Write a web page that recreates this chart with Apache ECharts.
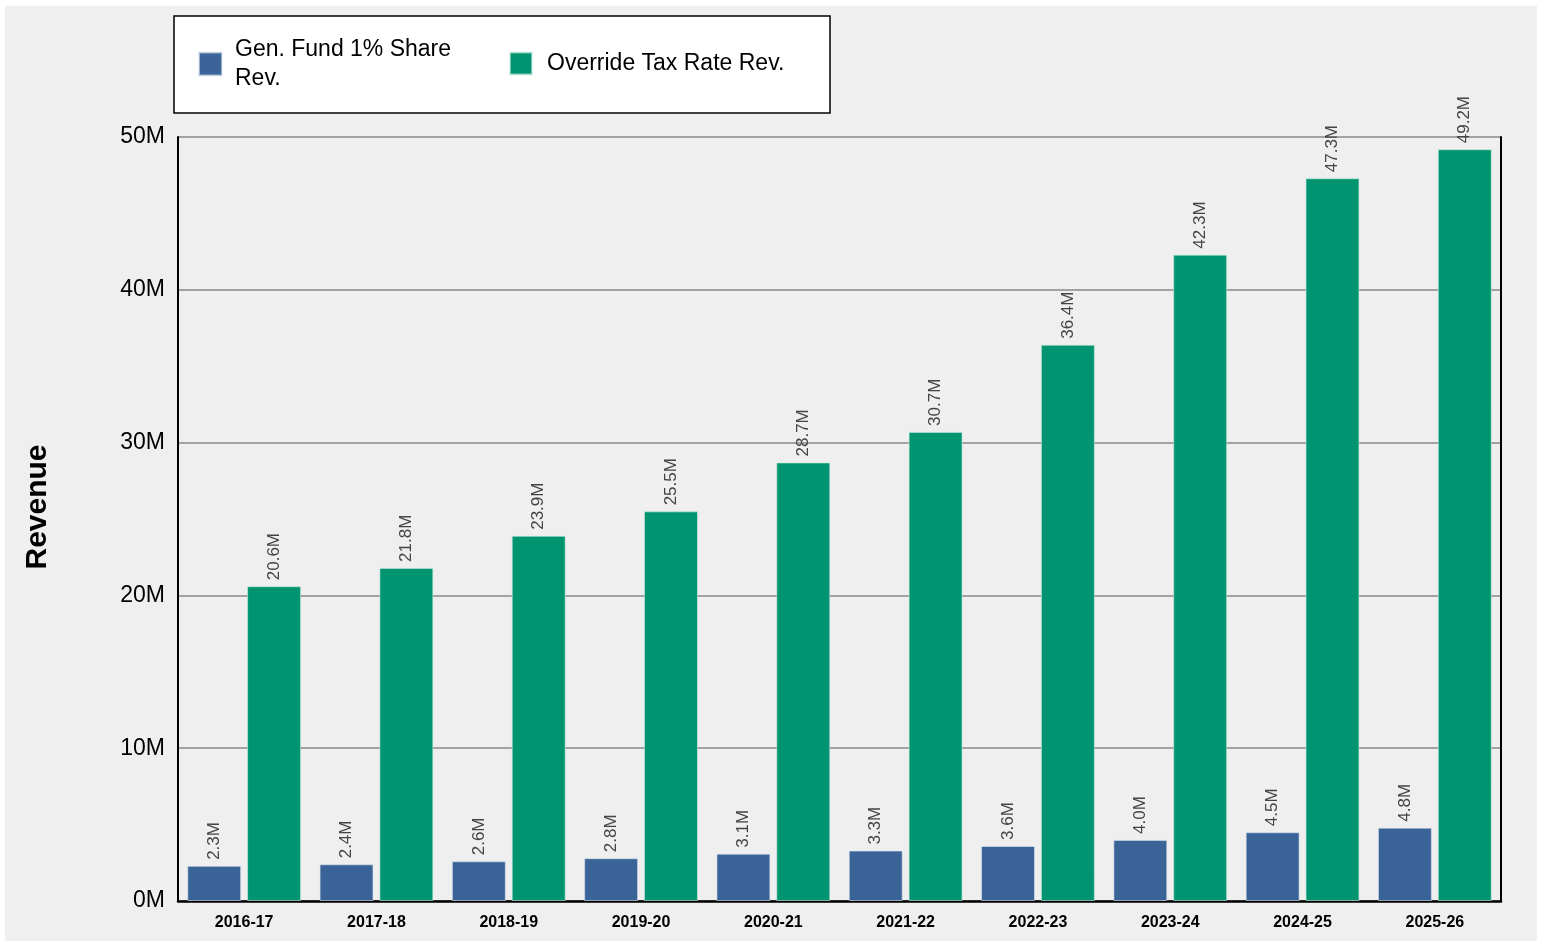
<!DOCTYPE html>
<html><head><meta charset="utf-8">
<script src="https://cdn.jsdelivr.net/npm/echarts@6/dist/echarts.min.js"></script>
<style>html,body{margin:0;padding:0;background:#fff;}#c{width:1545px;height:941px;}</style>
</head><body><div id="c"></div>
<script>
const categories = ['2016-17','2017-18','2018-19','2019-20','2020-21','2021-22','2022-23','2023-24','2024-25','2025-26'];
const genFund = [2.3, 2.4, 2.6, 2.8, 3.1, 3.3, 3.6, 4.0, 4.5, 4.8];
const overrideTax = [20.6, 21.8, 23.9, 25.5, 28.7, 30.7, 36.4, 42.3, 47.3, 49.2];
const yTicks = [0, 10, 20, 30, 40, 50];

const FONT = '"Liberation Sans", Arial, sans-serif';
const chart = echarts.init(document.getElementById('c'), null, {renderer: 'canvas'});
const labelCfg = {
  show: true, position: 'top', rotate: 90, align: 'left', verticalAlign: 'middle',
  distance: 6, color: '#444', fontSize: 17, fontFamily: FONT,
  formatter: p => p.value.toFixed(1) + 'M'
};
chart.setOption({
  animation: false,
  textStyle: {fontFamily: FONT},
  graphic: [
    {type: 'rect', z: -10, silent: true, shape: {x: 5, y: 6, width: 1532, height: 935}, style: {fill: '#efefef'}},
    {type: 'rect', z: 1, silent: true, shape: {x: 174, y: 16, width: 656, height: 97}, style: {fill: '#ffffff', stroke: '#000', lineWidth: 1.5}},
    {type: 'text', z: 5, x: 38, y: 507, rotation: Math.PI / 2,
      style: {text: 'Revenue', fontSize: 30, fontWeight: 'bold', fill: '#000', fontFamily: FONT, align: 'center', verticalAlign: 'middle'}}
  ],
  legend: [
    {data: ['Gen. Fund 1% Share\nRev.'], left: 198, top: 35, padding: 0, icon: 'rect', itemWidth: 23, itemHeight: 23,
      textStyle: {fontSize: 23, lineHeight: 29, color: '#000', fontFamily: FONT, padding: [0, 0, 0, 8]}},
    {data: ['Override Tax Rate Rev.'], left: 509, top: 49, padding: 0, icon: 'rect', itemWidth: 22, itemHeight: 22,
      textStyle: {fontSize: 23, lineHeight: 29, color: '#000', fontFamily: FONT, padding: [0, 0, 0, 10]}}
  ],
  grid: {left: 178, right: 44, top: 137, bottom: 40, containLabel: false},
  xAxis: {
    type: 'category', data: categories,
    axisLine: {show: true, lineStyle: {color: '#000', width: 2.5}},
    axisTick: {show: false},
    axisLabel: {color: '#000', fontSize: 16, fontWeight: 'bold', margin: 14, fontFamily: FONT}
  },
  yAxis: [{
    type: 'value', min: yTicks[0], max: yTicks[yTicks.length - 1], interval: 10,
    axisLine: {show: true, lineStyle: {color: '#000', width: 2}},
    axisTick: {show: false},
    axisLabel: {color: '#000', fontSize: 23, margin: 13, formatter: '{value}M', fontFamily: FONT},
    splitLine: {show: true, lineStyle: {color: '#888', width: 1.5}}
  }, {
    type: 'value', min: 0, max: 50, interval: 10, position: 'right',
    axisLine: {show: true, lineStyle: {color: '#000', width: 2}},
    axisTick: {show: false}, axisLabel: {show: false}, splitLine: {show: false}
  }],
  series: [
    {name: 'Gen. Fund 1% Share\nRev.', type: 'bar', data: genFund, barGap: '11%', barCategoryGap: '14%',
      itemStyle: {color: '#3a6497', borderColor: 'rgba(220,230,240,0.6)', borderWidth: 1}, label: labelCfg},
    {name: 'Override Tax Rate Rev.', type: 'bar', data: overrideTax, barGap: '11%', barCategoryGap: '14%',
      itemStyle: {color: '#009470', borderColor: 'rgba(200,235,225,0.6)', borderWidth: 1}, label: labelCfg}
  ]
});
</script></body></html>
